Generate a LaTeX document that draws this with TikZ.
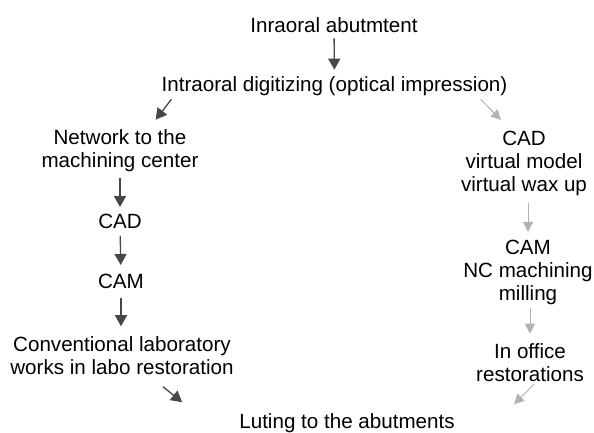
\documentclass[tikz,border=0pt]{standalone}
\usepackage{fontspec}
\setmainfont{Liberation Sans}
\usetikzlibrary{arrows.meta}

\tikzset{
  lbl/.style={align=center, inner sep=0pt, font=\fontsize{20.6}{23}\selectfont},
  darkarrow/.style={black!72, line width=1.3pt, -{Triangle[width=12pt,length=11pt]}},
  lightarrow/.style={black!30, line width=1pt, -{Triangle[width=10pt,length=10pt]}},
}

\begin{document}
\begin{tikzpicture}[x=1pt, y=-1pt]
    \useasboundingbox (0,0) rectangle (594,433);

    % Haut
    \node[lbl] (abut) at (334,25.5) {Inraoral abutmtent};
    \node[lbl] (digit) at (334.5,86.5) {Intraoral digitizing (optical impression)};

    % Branche gauche
    \node[lbl] (net) at (120,151) {Network to the\\machining center};
    \node[lbl] (cadL) at (120,221.5) {CAD};
    \node[lbl] (camL) at (121,281.5) {CAM};
    \node[lbl] (conv) at (122,355.5) {Conventional laboratory\\works in labo restoration};

    % Branche droite
    \node[lbl] (cadR) at (524,163.5) {CAD\\virtual model\\virtual wax up};
    \node[lbl] (camR) at (528,272.5) {CAM\\NC machining\\milling};
    \node[lbl] (office) at (530,363) {In office\\restorations};

    % Bas
    \node[lbl] (lute) at (347,423) {Luting to the abutments};

    % Fleches
    \draw[darkarrow, shorten <=5pt, shorten >=7pt] (abut) -- (digit);
    \draw[darkarrow] ([shift={(10,3)}]digit.south west) -- ([shift={(-43,-10)}]net.north east);
    \draw[darkarrow, shorten <=6pt, shorten >=7pt] (net.south -| cadL) -- (cadL);
    \draw[darkarrow, shorten <=7pt, shorten >=9pt] (cadL) -- (camL);
    \draw[darkarrow, shorten <=9pt, shorten >=10pt] (camL) -- (conv.north -| camL);
    \draw[darkarrow] ([shift={(41,12)}]conv.south) -- ([shift={(-57,-11)}]lute.north west);

    \draw[lightarrow] ([shift={(-27,3)}]digit.south east) -- ([shift={(-23,-11)}]cadR.north);
    \draw[lightarrow, shorten <=7pt, shorten >=8pt] (cadR.south -| camR) -- (camR);
    \draw[lightarrow, shorten <=3pt, shorten >=10pt] (camR.south -| office) -- (office);
    \draw[lightarrow] ([shift={(4,2)}]office.south) -- ([shift={(-16,22)}]office.south);
\end{tikzpicture}
\end{document}
